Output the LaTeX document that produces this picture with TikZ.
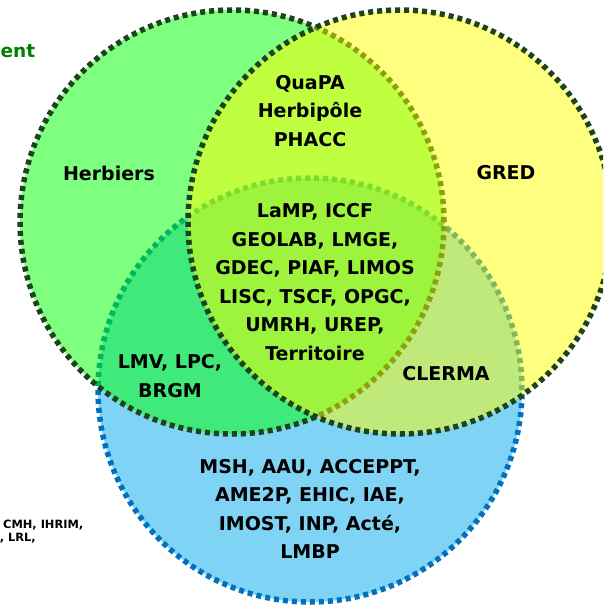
\documentclass[tikz,border=0pt]{standalone}
\usepackage{fontspec}
\setmainfont{DejaVu Sans}
\usepackage{tikz}

\definecolor{herbgreen}{RGB}{0,255,0}
\definecolor{gredyellow}{RGB}{255,255,0}
\definecolor{labblue}{RGB}{0,169,235}
\definecolor{rimgreen}{RGB}{30,66,30}
\definecolor{rimblue}{RGB}{0,112,192}
\definecolor{titlegreen}{RGB}{0,128,0}

\tikzset{
  rim/.style={line width=5.5pt, dash pattern=on 5pt off 4pt, fill opacity=0.5},
  lab/.style={font=\fontsize{19}{28.6}\selectfont\bfseries, align=center, inner sep=0pt},
  small/.style={font=\fontsize{11.4}{13}\selectfont\bfseries, inner sep=0pt}
}

\begin{document}
\begin{tikzpicture}[x=1pt,y=-1pt]
        \useasboundingbox (0,0) rectangle (603,607);
        \clip (0,0) rectangle (603,607);

        \coordinate (labc) at (310,390);
        \coordinate (herbc) at (232,222);
        \coordinate (gredc) at (400,222);

        \draw[rim, draw=rimblue, fill=labblue] (labc) circle (212pt);
        \draw[rim, draw=rimgreen, fill=herbgreen] (herbc) circle (212pt);
        \draw[rim, draw=rimgreen, fill=gredyellow] (gredc) circle (212pt);

        \node[lab, font=\fontsize{18.5}{22}\selectfont\bfseries, text=titlegreen, anchor=base west] (ent) at (0.5,58) {ent};

        \node[lab] (herbiers) at (109,173) {Herbiers};
        \node[lab] (gred) at (506,173) {GRED};
        \node[lab] (quapa) at (310,111) {QuaPA\\Herbipôle\\PHACC};
        \node[lab] (lamp) at (315,282) {LaMP, ICCF\\GEOLAB, LMGE,\\GDEC, PIAF, LIMOS\\LISC, TSCF, OPGC,\\UMRH, UREP,\\Territoire};
        \node[lab] (lmv) at (170,376) {LMV, LPC,\\BRGM};
        \node[lab] (clerma) at (446,374) {CLERMA};
        \node[lab] (msh) at (310,509) {MSH, AAU, ACCEPPT,\\AME2P, EHIC, IAE,\\IMOST, INP, Acté,\\LMBP};

        \node[small, anchor=base west] (cmh) at (3,528) {CMH, IHRIM,};
        \node[small, anchor=base east] (lrl) at (36,541) {, LRL,};
\end{tikzpicture}
\end{document}
